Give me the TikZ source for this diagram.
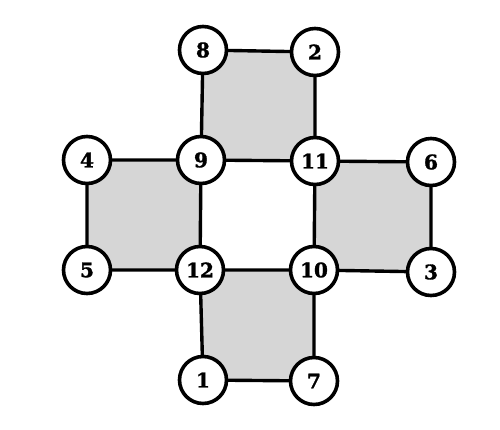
\documentclass[tikz,border=0pt]{standalone}
\usepackage{fontspec}
\setmainfont{DejaVu Serif}[BoldFeatures={FakeBold=1.6}]
\begin{document}
\begin{tikzpicture}[x=1pt,y=-1pt,
  vtx/.style={circle,draw=black,line width=3.6pt,fill=white,minimum size=47pt,inner sep=0pt,font=\fontsize{20}{20}\selectfont\bfseries},
  edge/.style={draw=black,line width=3.4pt},
  face/.style={fill=black!16}]
\useasboundingbox (0,0) rectangle (500,429);
\coordinate (c8) at (203,50);
\coordinate (c2) at (315,52);
\coordinate (c4) at (87,160);
\coordinate (c9) at (201,160);
\coordinate (c11) at (315,161);
\coordinate (c6) at (431,162);
\coordinate (c5) at (87,270);
\coordinate (c12) at (200,270);
\coordinate (c10) at (314,270);
\coordinate (c3) at (431,272);
\coordinate (c1) at (203,380);
\coordinate (c7) at (314,381);
\fill[face] (c8) -- (c2) -- (c11) -- (c9) -- cycle;
\fill[face] (c4) -- (c9) -- (c12) -- (c5) -- cycle;
\fill[face] (c11) -- (c6) -- (c3) -- (c10) -- cycle;
\fill[face] (c12) -- (c10) -- (c7) -- (c1) -- cycle;
\draw[edge] (c8) -- (c2) -- (c11) -- (c9) -- cycle;
\draw[edge] (c4) -- (c9) -- (c12) -- (c5) -- cycle;
\draw[edge] (c11) -- (c6) -- (c3) -- (c10) -- cycle;
\draw[edge] (c12) -- (c10) -- (c7) -- (c1) -- cycle;
\node[vtx] (n8) at (c8) {8};
\node[vtx] (n2) at (c2) {2};
\node[vtx] (n4) at (c4) {4};
\node[vtx] (n9) at (c9) {9};
\node[vtx] (n11) at (c11) {11};
\node[vtx] (n6) at (c6) {6};
\node[vtx] (n5) at (c5) {5};
\node[vtx] (n12) at (c12) {12};
\node[vtx] (n10) at (c10) {10};
\node[vtx] (n3) at (c3) {3};
\node[vtx] (n1) at (c1) {1};
\node[vtx] (n7) at (c7) {7};
\end{tikzpicture}
\end{document}
